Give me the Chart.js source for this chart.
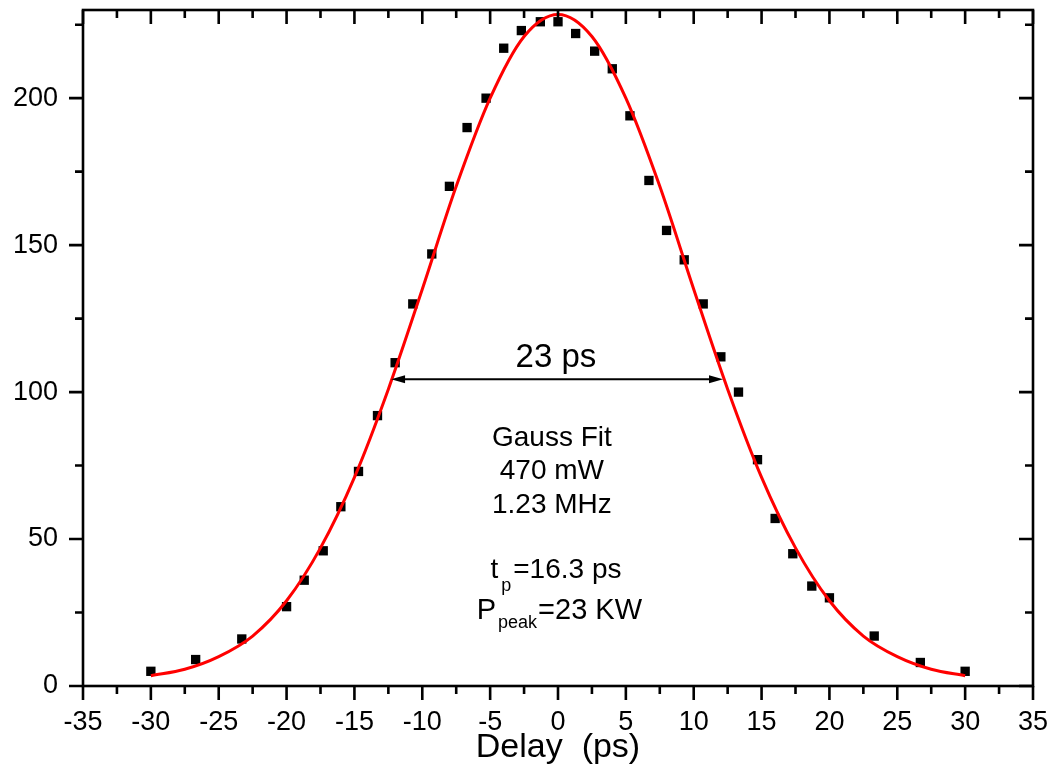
<!DOCTYPE html>
<html>
<head>
<meta charset="utf-8">
<script src="https://cdn.jsdelivr.net/npm/chart.js@4.4.1/dist/chart.umd.min.js"></script>
<style>
  html, body { margin: 0; padding: 0; background: #fff; }
  #grafico { display: block; }
</style>
</head>
<body>
<canvas id="grafico" width="1049" height="776"></canvas>
<script>
// ========== DATOS ==========
const delayPs = [-30, -26.7, -23.3, -20, -18.7, -17.3, -16, -14.7, -13.3, -12, -10.7, -9.3, -8, -6.7, -5.3, -4, -2.7, -1.3,
  0, 1.3, 2.7, 4, 5.3, 6.7, 8, 9.3, 10.7, 12, 13.3, 14.7, 16, 17.3, 18.7, 20, 23.3, 26.7, 30];
const senal = [5, 9, 16, 27, 36, 46, 61, 73, 92, 110, 130, 147, 170, 190, 200, 217, 223, 226,
  226, 222, 216, 210, 194, 172, 155, 145, 130, 112, 100, 77, 57, 45, 34, 30, 17, 8, 5];

// curva del ajuste gaussiano
const ajusteDelay = [-30, -27.5, -25, -22.5, -20, -17.5, -15, -12.5, -10, -7.5, -5, -2.5, 0,
  2.5, 5, 7.5, 10, 12.5, 15, 17.5, 20, 22.5, 25, 27.5, 30];
const ajusteSenal = [3.5, 5.7, 10, 17, 29, 47, 71, 101, 135, 170, 200, 221, 228.5,
  221, 200, 170, 135, 101, 71, 47, 29, 17, 10, 5.7, 3.5];

const tituloX = "Delay  (ps)";
const textoAncho = "23 ps";
const textoAjuste = ["Gauss Fit", "470 mW", "1.23 MHz"];

const FUENTE = '"Liberation Sans", Arial, sans-serif';

// ========== DIBUJO EXTRA ==========
// marco con ticks mayores y menores (abajo/izq hacia afuera, arriba/der hacia adentro)
const marcoPlugin = {
  id: "marco",
  afterDatasetsDraw(chart) {
    const { ctx, chartArea: a, scales: { x, y } } = chart;
    ctx.save();
    ctx.strokeStyle = "#000";
    ctx.lineWidth = 2.6;
    ctx.strokeRect(a.left, a.top, a.right - a.left, a.bottom - a.top);
    ctx.beginPath();
    for (let v = -35; v <= 35; v += 2.5) {
      const px = x.getPixelForValue(v);
      const largo = v % 5 === 0 ? 14 : 8;
      ctx.moveTo(px, a.bottom); ctx.lineTo(px, a.bottom + largo);
      ctx.moveTo(px, a.top); ctx.lineTo(px, a.top + largo);
    }
    for (let v = 0; v <= 225; v += 25) {
      const py = y.getPixelForValue(v);
      const largo = v % 50 === 0 ? 14 : 8;
      ctx.moveTo(a.left, py); ctx.lineTo(a.left - largo, py);
      ctx.moveTo(a.right, py); ctx.lineTo(a.right - largo, py);
    }
    ctx.stroke();
    ctx.restore();
  }
};

function textoCompuesto(ctx, partes, cx, baseY) {
  let ancho = 0;
  partes.forEach(p => {
    ctx.font = p.size + "px " + FUENTE;
    ancho += ctx.measureText(p.t).width + (p.gap || 0);
  });
  let px = cx - ancho / 2;
  ctx.textAlign = "left";
  partes.forEach(p => {
    ctx.font = p.size + "px " + FUENTE;
    px += p.gap || 0;
    ctx.fillText(p.t, px, baseY + (p.dy || 0));
    px += ctx.measureText(p.t).width;
  });
}

function flecha(ctx, x1, x2, yy) {
  ctx.lineWidth = 2;
  ctx.beginPath();
  ctx.moveTo(x1 + 10, yy);
  ctx.lineTo(x2 - 10, yy);
  ctx.stroke();
  ctx.beginPath();
  ctx.moveTo(x1, yy); ctx.lineTo(x1 + 14, yy - 4); ctx.lineTo(x1 + 14, yy + 4); ctx.closePath();
  ctx.moveTo(x2, yy); ctx.lineTo(x2 - 14, yy - 4); ctx.lineTo(x2 - 14, yy + 4); ctx.closePath();
  ctx.fill();
}

const anotacionesPlugin = {
  id: "anotaciones",
  afterDatasetsDraw(chart) {
    const { ctx, scales: { x, y } } = chart;
    ctx.save();
    ctx.fillStyle = "#000";
    ctx.strokeStyle = "#000";
    ctx.textBaseline = "alphabetic";

    // ancho a media altura
    flecha(ctx, x.getPixelForValue(-12.3), x.getPixelForValue(12.16), y.getPixelForValue(104.4));
    ctx.font = "33px " + FUENTE;
    ctx.textAlign = "center";
    ctx.fillText(textoAncho, x.getPixelForValue(-0.15), y.getPixelForValue(108.5));

    // bloque de texto del ajuste
    ctx.font = "28px " + FUENTE;
    const bases = [81.6, 70.3, 59.0];
    textoAjuste.forEach((t, i) => {
      ctx.fillText(t, x.getPixelForValue(-0.45), y.getPixelForValue(bases[i]));
    });
    textoCompuesto(ctx, [
      { t: "t", size: 28 },
      { t: "p", size: 18, dy: 13, gap: 3 },
      { t: "=16.3 ps", size: 28, gap: 2 }
    ], x.getPixelForValue(-0.15), y.getPixelForValue(36.7));
    textoCompuesto(ctx, [
      { t: "P", size: 29 },
      { t: "peak", size: 18, dy: 9, gap: 2 },
      { t: "=23 KW", size: 29, gap: 1 }
    ], x.getPixelForValue(0.1), y.getPixelForValue(22.8));
    ctx.restore();
  }
};

// quita el relleno automatico que Chart.js agrega por las etiquetas
function sinRelleno(s) {
  s.paddingTop = 0;
  s.paddingBottom = 0;
  s.paddingLeft = 0;
  s.paddingRight = 0;
}

// ========== GRAFICO ==========
const puntos = delayPs.map((d, i) => ({ x: d, y: senal[i] }));
const curva = ajusteDelay.map((d, i) => ({ x: d, y: ajusteSenal[i] }));

const chart = new Chart(document.getElementById("grafico"), {
  type: "scatter",
  data: {
    datasets: [
      {
        label: "Gauss Fit",
        data: curva,
        showLine: true,
        borderColor: "#ff0000",
        borderWidth: 3,
        pointRadius: 0,
        cubicInterpolationMode: "monotone",
        order: 0
      },
      {
        label: "Datos",
        data: puntos,
        pointStyle: "rect",
        pointRadius: 6.6,
        backgroundColor: "#000",
        borderWidth: 0,
        order: 1
      }
    ]
  },
  options: {
    responsive: false,
    devicePixelRatio: 1,
    animation: false,
    layout: { padding: { top: 10, right: 16, left: 0, bottom: 0 } },
    plugins: { legend: { display: false }, tooltip: { enabled: false } },
    scales: {
      x: {
        type: "linear",
        min: -35,
        max: 35,
        grid: { display: false, drawTicks: false },
        border: { display: false },
        ticks: { stepSize: 5, includeBounds: false, color: "#000", padding: 20, font: { family: FUENTE, size: 27 } },
        title: { display: true, text: tituloX, color: "#000", font: { family: FUENTE, size: 34 }, padding: { top: 0, bottom: 8 } },
        afterFit: s => { s.height = 90; sinRelleno(s); }
      },
      y: {
        type: "linear",
        min: 0,
        max: 230,
        grid: { display: false, drawTicks: false },
        border: { display: false },
        ticks: { stepSize: 50, includeBounds: false, color: "#000", padding: 25, font: { family: FUENTE, size: 27 } },
        afterFit: s => { s.width = 83; sinRelleno(s); }
      }
    }
  },
  plugins: [marcoPlugin, anotacionesPlugin]
});
</script>
</body>
</html>
